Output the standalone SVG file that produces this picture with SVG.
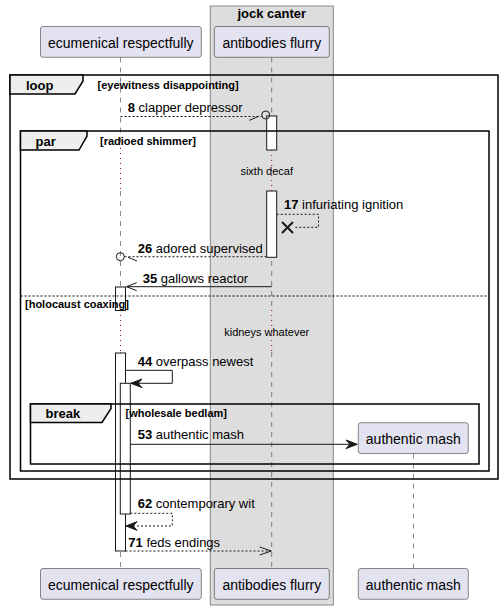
<svg xmlns="http://www.w3.org/2000/svg" width="503" height="610" viewBox="0 0 503 610">
<style>
.pbox{fill:#E2E2F0;stroke:#181818;stroke-width:0.5}
.ptxt{font-family:"Liberation Sans",Arial,sans-serif;font-size:14px;fill:#000;text-anchor:middle}
.life{stroke:#181818;stroke-width:0.5;stroke-dasharray:5,5;fill:none}
.dot{stroke:#A80036;stroke-width:1;stroke-dasharray:1,4;fill:none}
.bar{fill:#FFFFFF;stroke:#181818;stroke-width:1}
.frame{fill:none;stroke:#000;stroke-width:1.5}
.tab{fill:#EEEEEE;stroke:#000;stroke-width:1.5}
.gt{font-family:"Liberation Sans",Arial,sans-serif;font-weight:bold;font-size:13px;fill:#000}
.gc{font-family:"Liberation Sans",Arial,sans-serif;font-weight:bold;font-size:11px;fill:#000}
.msg{font-family:"Liberation Sans",Arial,sans-serif;font-size:13px;fill:#000}
.msg .n{font-weight:bold}
.div{font-family:"Liberation Sans",Arial,sans-serif;font-size:11px;fill:#000;text-anchor:middle}
.sl{stroke:#181818;stroke-width:1;fill:none}
.dl{stroke:#181818;stroke-width:1;fill:none;stroke-dasharray:2,2}
.ah{fill:#181818;stroke:#181818;stroke-width:1}
</style>
<g id="box-jock-canter">
<rect x="210.3" y="6" width="123" height="599" fill="#DDDDDD" stroke="#888888" stroke-width="1"/>
<text x="271.8" y="17.5" class="gt" text-anchor="middle">jock canter</text>
</g>
<g id="lifelines">
<path class="life" d="M120.5,57.5 V148 M120.5,191 V310 M120.5,352 V568.5"/>
<path class="dot" d="M120.5,148 V191 M120.5,310 V352"/>
<path class="life" d="M271.7,57.5 V150 M271.7,191 V310 M271.7,352 V568.5"/>
<path class="dot" d="M271.7,150 V191 M271.7,310 V352"/>
<path class="life" d="M413.5,453.5 V568.5"/>
</g>
<g id="activations">
<rect class="bar" x="266.7" y="116" width="10" height="34"/>
<rect class="bar" x="266.7" y="191" width="10" height="66.3"/>
<rect class="bar" x="115.5" y="287" width="10" height="23.5"/>
<rect class="bar" x="115.5" y="353" width="10" height="198"/>
<rect class="bar" x="120.3" y="383.3" width="10" height="130.7"/>
</g>
<g id="frames">
<rect class="frame" x="10" y="75" width="488" height="404"/>
<polygon class="tab" points="10,75 83,75 83,81 75,94 10,94"/>
<text class="gt" x="26" y="90">loop</text>
<text class="gc" x="97.5" y="88.5">[eyewitness disappointing]</text>
<rect class="frame" x="20.5" y="131" width="468.5" height="340"/>
<polygon class="tab" points="20.5,131 87,131 87,136 79,150 20.5,150"/>
<text class="gt" x="35.5" y="145.5">par</text>
<text class="gc" x="100" y="144.5">[radioed shimmer]</text>
<line x1="20.5" y1="296" x2="489" y2="296" stroke="#000" stroke-width="1" stroke-dasharray="2,2"/>
<text class="gc" x="25" y="307.5">[holocaust coaxing]</text>
<rect class="frame" x="30.5" y="404" width="448.5" height="60"/>
<polygon class="tab" points="30.5,404 111,404 111,408.5 102,422.5 30.5,422.5"/>
<text class="gt" x="45.5" y="418">break</text>
<text class="gc" x="125.5" y="416.5">[wholesale bedlam]</text>
</g>
<g id="dividers">
<text class="div" x="266.7" y="175.3">sixth decaf</text>
<text class="div" x="266.7" y="335.5">kidneys whatever</text>
</g>
<g id="connectors">
<g id="m8">
<line class="dl" x1="120.5" y1="116.5" x2="261.5" y2="116.5"/>
<circle cx="265.7" cy="115" r="4" fill="none" stroke="#181818" stroke-width="1"/>
<line class="sl" x1="249.3" y1="120.3" x2="258.8" y2="116.3"/>
<text class="msg" x="127.7" y="111.5"><tspan class="n">8</tspan> clapper depressor</text>
</g>
<g id="m17">
<polyline class="dl" points="276.7,214.3 318.5,214.3 318.5,227.3 293.5,227.3"/>
<path d="M282,222 L293,233 M282,233 L293,222" stroke="#181818" stroke-width="2" fill="none"/>
<text class="msg" x="284" y="208.5"><tspan class="n">17</tspan> infuriating ignition</text>
</g>
<g id="m26">
<line class="dl" x1="124.5" y1="256.7" x2="266.7" y2="256.7"/>
<circle cx="120.3" cy="256.7" r="4" fill="none" stroke="#181818" stroke-width="1"/>
<line class="sl" x1="128" y1="257.3" x2="137" y2="261"/>
<text class="msg" x="137.7" y="252.5"><tspan class="n">26</tspan> adored supervised</text>
</g>
<g id="m35">
<line class="sl" x1="271.7" y1="286.7" x2="126.5" y2="286.7"/>
<polyline class="sl" points="136.7,282.7 126.5,286.7 136.7,290.7"/>
<text class="msg" x="142.7" y="282.5"><tspan class="n">35</tspan> gallows reactor</text>
</g>
<g id="m44">
<polyline class="sl" points="125.5,370.3 172.3,370.3 172.3,383.3 131,383.3"/>
<polygon class="ah" points="130.8,383.3 142,379 138,383.3 142,387.6"/>
<text class="msg" x="137.7" y="365.5"><tspan class="n">44</tspan> overpass newest</text>
</g>
<g id="m53">
<line class="sl" x1="130.3" y1="444.3" x2="356" y2="444.3"/>
<polygon class="ah" points="357.3,444.3 346,440 350,444.3 346,448.6"/>
<text class="msg" x="137.7" y="439.3"><tspan class="n">53</tspan> authentic mash</text>
</g>
<g id="m62">
<polyline class="dl" points="130.3,513.3 172.3,513.3 172.3,526 127,526"/>
<polygon class="ah" points="126,526 137,521.7 133,526 137,530.3"/>
<text class="msg" x="137.7" y="507.5"><tspan class="n">62</tspan> contemporary wit</text>
</g>
<g id="m71">
<line class="dl" x1="125.5" y1="551" x2="271" y2="551"/>
<polyline class="sl" points="259.7,547 271.3,551 259.7,555"/>
<text class="msg" x="128.3" y="546.5"><tspan class="n">71</tspan> feds endings</text>
</g>
</g>
<g id="p-ecumenical">
<rect class="pbox" x="40.5" y="26.5" width="160.8" height="30.8" rx="2.5"/>
<text class="ptxt" x="120.8" y="48">ecumenical respectfully</text>
<rect class="pbox" x="40.5" y="568.5" width="160.8" height="30.8" rx="2.5"/>
<text class="ptxt" x="120.8" y="590">ecumenical respectfully</text>
</g>
<g id="p-antibodies">
<rect class="pbox" x="214.3" y="26.5" width="115" height="30.8" rx="2.5"/>
<text class="ptxt" x="271.8" y="48">antibodies flurry</text>
<rect class="pbox" x="214.3" y="568.5" width="115" height="30.8" rx="2.5"/>
<text class="ptxt" x="271.8" y="590">antibodies flurry</text>
</g>
<g id="p-authentic">
<rect class="pbox" x="358.3" y="422.7" width="110" height="30.8" rx="2.5"/>
<text class="ptxt" x="413.3" y="444">authentic mash</text>
<rect class="pbox" x="358.3" y="568.5" width="110" height="30.8" rx="2.5"/>
<text class="ptxt" x="413.3" y="590">authentic mash</text>
</g>
</svg>
